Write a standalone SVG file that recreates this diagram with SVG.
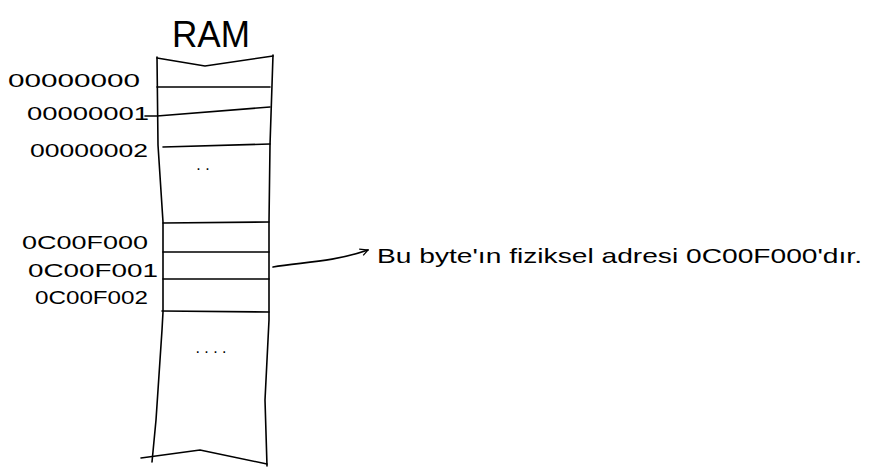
<svg xmlns="http://www.w3.org/2000/svg" width="871" height="470" viewBox="0 0 871 470">
<defs>
<style>
.ln{fill:none;stroke:#000;stroke-width:1.6;stroke-linecap:round;stroke-linejoin:round}
.t{font-family:"Liberation Sans",Arial,sans-serif;fill:#000}
.lbl{font-size:19px}
</style>
<marker id="ah" viewBox="0 0 10 10" refX="9" refY="5" markerWidth="9" markerHeight="9" orient="auto" markerUnits="userSpaceOnUse">
<path d="M0,1 L9,5 L2,9" fill="none" stroke="#000" stroke-width="1.4"/>
</marker>
</defs>
<rect width="871" height="470" fill="#fff"/>
<g id="ram">
<text class="t" x="211" y="47" font-size="36" text-anchor="middle" textLength="78" lengthAdjust="spacingAndGlyphs">RAM</text>
<path class="ln" d="M157,57 L158,145 L163,222 L163,312 L162,330 L156,420 L152,462"/>
<path class="ln" d="M273,55 L270,145 L269,222 L269,320 L267,360 L265,400 L267,466"/>
<path class="ln" d="M157,58 L205,66 L273,56"/>
<path class="ln" d="M141,458 L200,450 L267,464"/>
</g>
<g id="cell0"><path class="ln" d="M157,87 L270,87"/><text class="t lbl" x="8" y="87" textLength="132" lengthAdjust="spacingAndGlyphs">00000000</text></g>
<g id="cell1"><path class="ln" d="M145,116 L157,116 L270,107"/><text class="t lbl" x="27" y="120" textLength="122" lengthAdjust="spacingAndGlyphs">00000001</text></g>
<g id="cell2"><path class="ln" d="M163,147 L270,144"/><text class="t lbl" x="30" y="157" textLength="118" lengthAdjust="spacingAndGlyphs">00000002</text></g>
<g id="gap1"><text class="t" x="203" y="170" font-size="16" text-anchor="middle">. .</text></g>
<g id="cellF0"><path class="ln" d="M163,223 L269,222"/><text class="t lbl" x="22" y="249" textLength="126" lengthAdjust="spacingAndGlyphs">0C00F000</text></g>
<g id="cellF1"><path class="ln" d="M163,252 L269,252"/><text class="t lbl" x="28" y="277" textLength="130" lengthAdjust="spacingAndGlyphs">0C00F001</text></g>
<g id="cellF2"><path class="ln" d="M163,279 L269,279"/><text class="t lbl" x="35" y="304" textLength="113" lengthAdjust="spacingAndGlyphs">0C00F002</text></g>
<g id="cellF3"><path class="ln" d="M162,311 L269,312"/></g>
<g id="gap2"><text class="t" x="211" y="353" font-size="16" text-anchor="middle">. . . .</text></g>
<g id="note"><text class="t" x="377" y="263" font-size="21" textLength="485" lengthAdjust="spacingAndGlyphs">Bu byte'ın fiziksel adresi 0C00F000'dır.</text></g>
<g id="connectors">
<path class="ln" d="M273,267 C300,262 330,263 368,250" marker-end="url(#ah)"/>
</g>
</svg>
